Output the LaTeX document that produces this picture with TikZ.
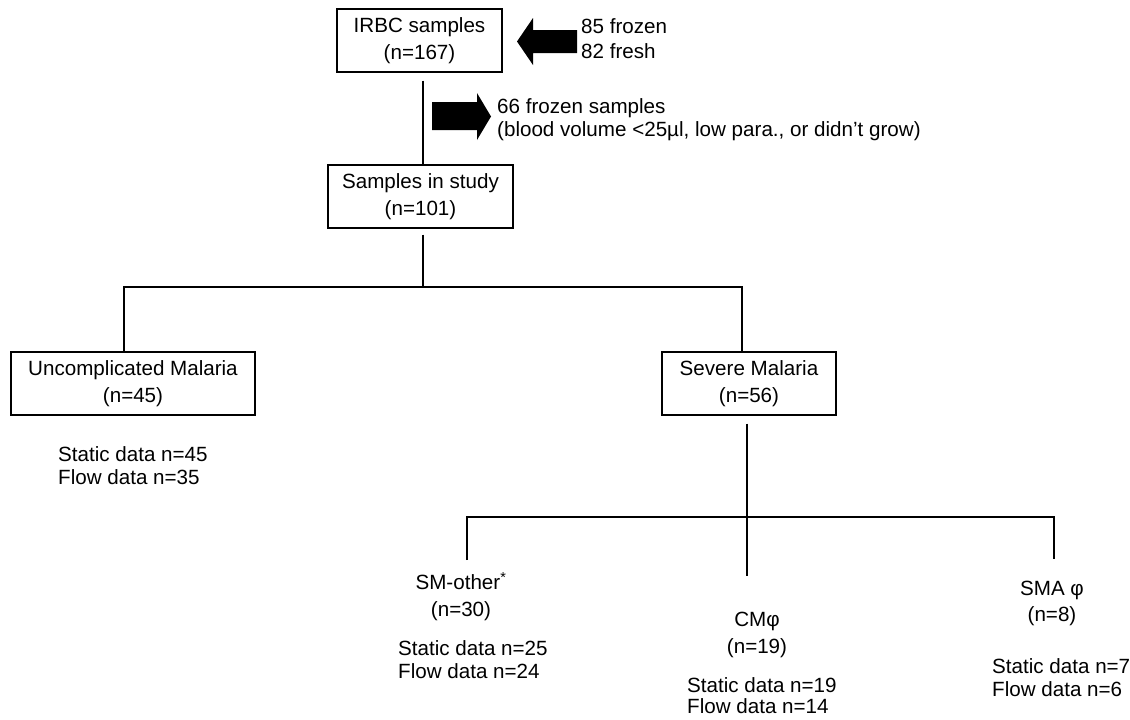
\documentclass[tikz,border=0pt]{standalone}
\usepackage{fontspec}
\setmainfont{Liberation Sans}

\begin{document}
\begin{tikzpicture}[x=1pt, y=-1pt,
  font=\fontsize{20.6}{26.5}\selectfont,
  box/.style={draw, line width=1.4pt, inner sep=0pt, minimum height=63pt, align=center},
  lbl/.style={inner sep=0pt, align=center},
  datalbl/.style={inner sep=0pt, align=left, anchor=north west, font=\fontsize{20.6}{23.5}\selectfont}]
\useasboundingbox (0,0) rectangle (1130,720);
% boxes
\node[box, minimum width=165pt] (irbc) at (419.5,40.5) {IRBC samples\\(n=167)};
\node[box, minimum width=185pt] (study) at (420.5,196.5) {Samples in study\\(n=101)};
\node[box, minimum width=244pt] (uncomp) at (133,383.5) {Uncomplicated Malaria\\(n=45)};
\node[box, minimum width=174pt] (severe) at (749,383.5) {Severe Malaria\\(n=56)};
% groups of severe malaria
\node[lbl] (smother) at (461,596.5) {SM-other\textsuperscript{*}\\(n=30)};
\node[lbl] (cm) at (757,635) {CMφ\\(n=19)};
\node[lbl] (sma) at (1052,603.5) {SMA φ\\(n=8)};
% data counts
\node[datalbl] (uncompdata) at (58,446) {Static data n=45\\Flow data n=35};
\node[datalbl] (smotherdata) at (398,640.2) {Static data n=25\\Flow data n=24};
\node[datalbl, font=\fontsize{20.6}{21.5}\selectfont] (cmdata) at (687,677.2) {Static data n=19\\Flow data n=14};
\node[datalbl] (smadata) at (992,658.2) {Static data n=7\\Flow data n=6};
% side notes
\node[datalbl, font=\fontsize{20.6}{25}\selectfont] (sources) at (581,18.2) {85 frozen\\82 fresh};
\node[datalbl] (excluded) at (497,98.2) {66 frozen samples\\(blood volume <25µl, low para., or didn’t grow)};
\fill (517,41.5) -- (533,18) -- (533,30) -- (577,30) -- (577,53) -- (533,53) -- (533,65) -- cycle;
\fill (432,102) -- (477,102) -- (477,93) -- (491,116.5) -- (477,140) -- (477,130) -- (432,130) -- cycle;
% tree lines
\coordinate (split1) at (423,287);
\coordinate (split2) at (747,517);
\coordinate (smtop) at (467,560);
\coordinate (cmtop) at (747,576);
\coordinate (smatop) at (1054,559);
\draw[line width=1.3pt] ([xshift=3.5pt,yshift=-8pt]irbc.south) -- ([xshift=2.5pt]study.north);
\draw[line width=1.3pt] ([xshift=2.5pt,yshift=-6pt]study.south) -- (split1);
\draw[line width=1.3pt] ([xshift=-9pt]uncomp.north) |- (split1) -| ([xshift=-7pt]severe.north);
\draw[line width=1.3pt] ([xshift=-2pt,yshift=-8pt]severe.south) -- (split2);
\draw[line width=1.3pt] (smtop) |- (split2) -| (smatop);
\draw[line width=1.3pt] (split2) -- (cmtop);
\end{tikzpicture}
\end{document}
